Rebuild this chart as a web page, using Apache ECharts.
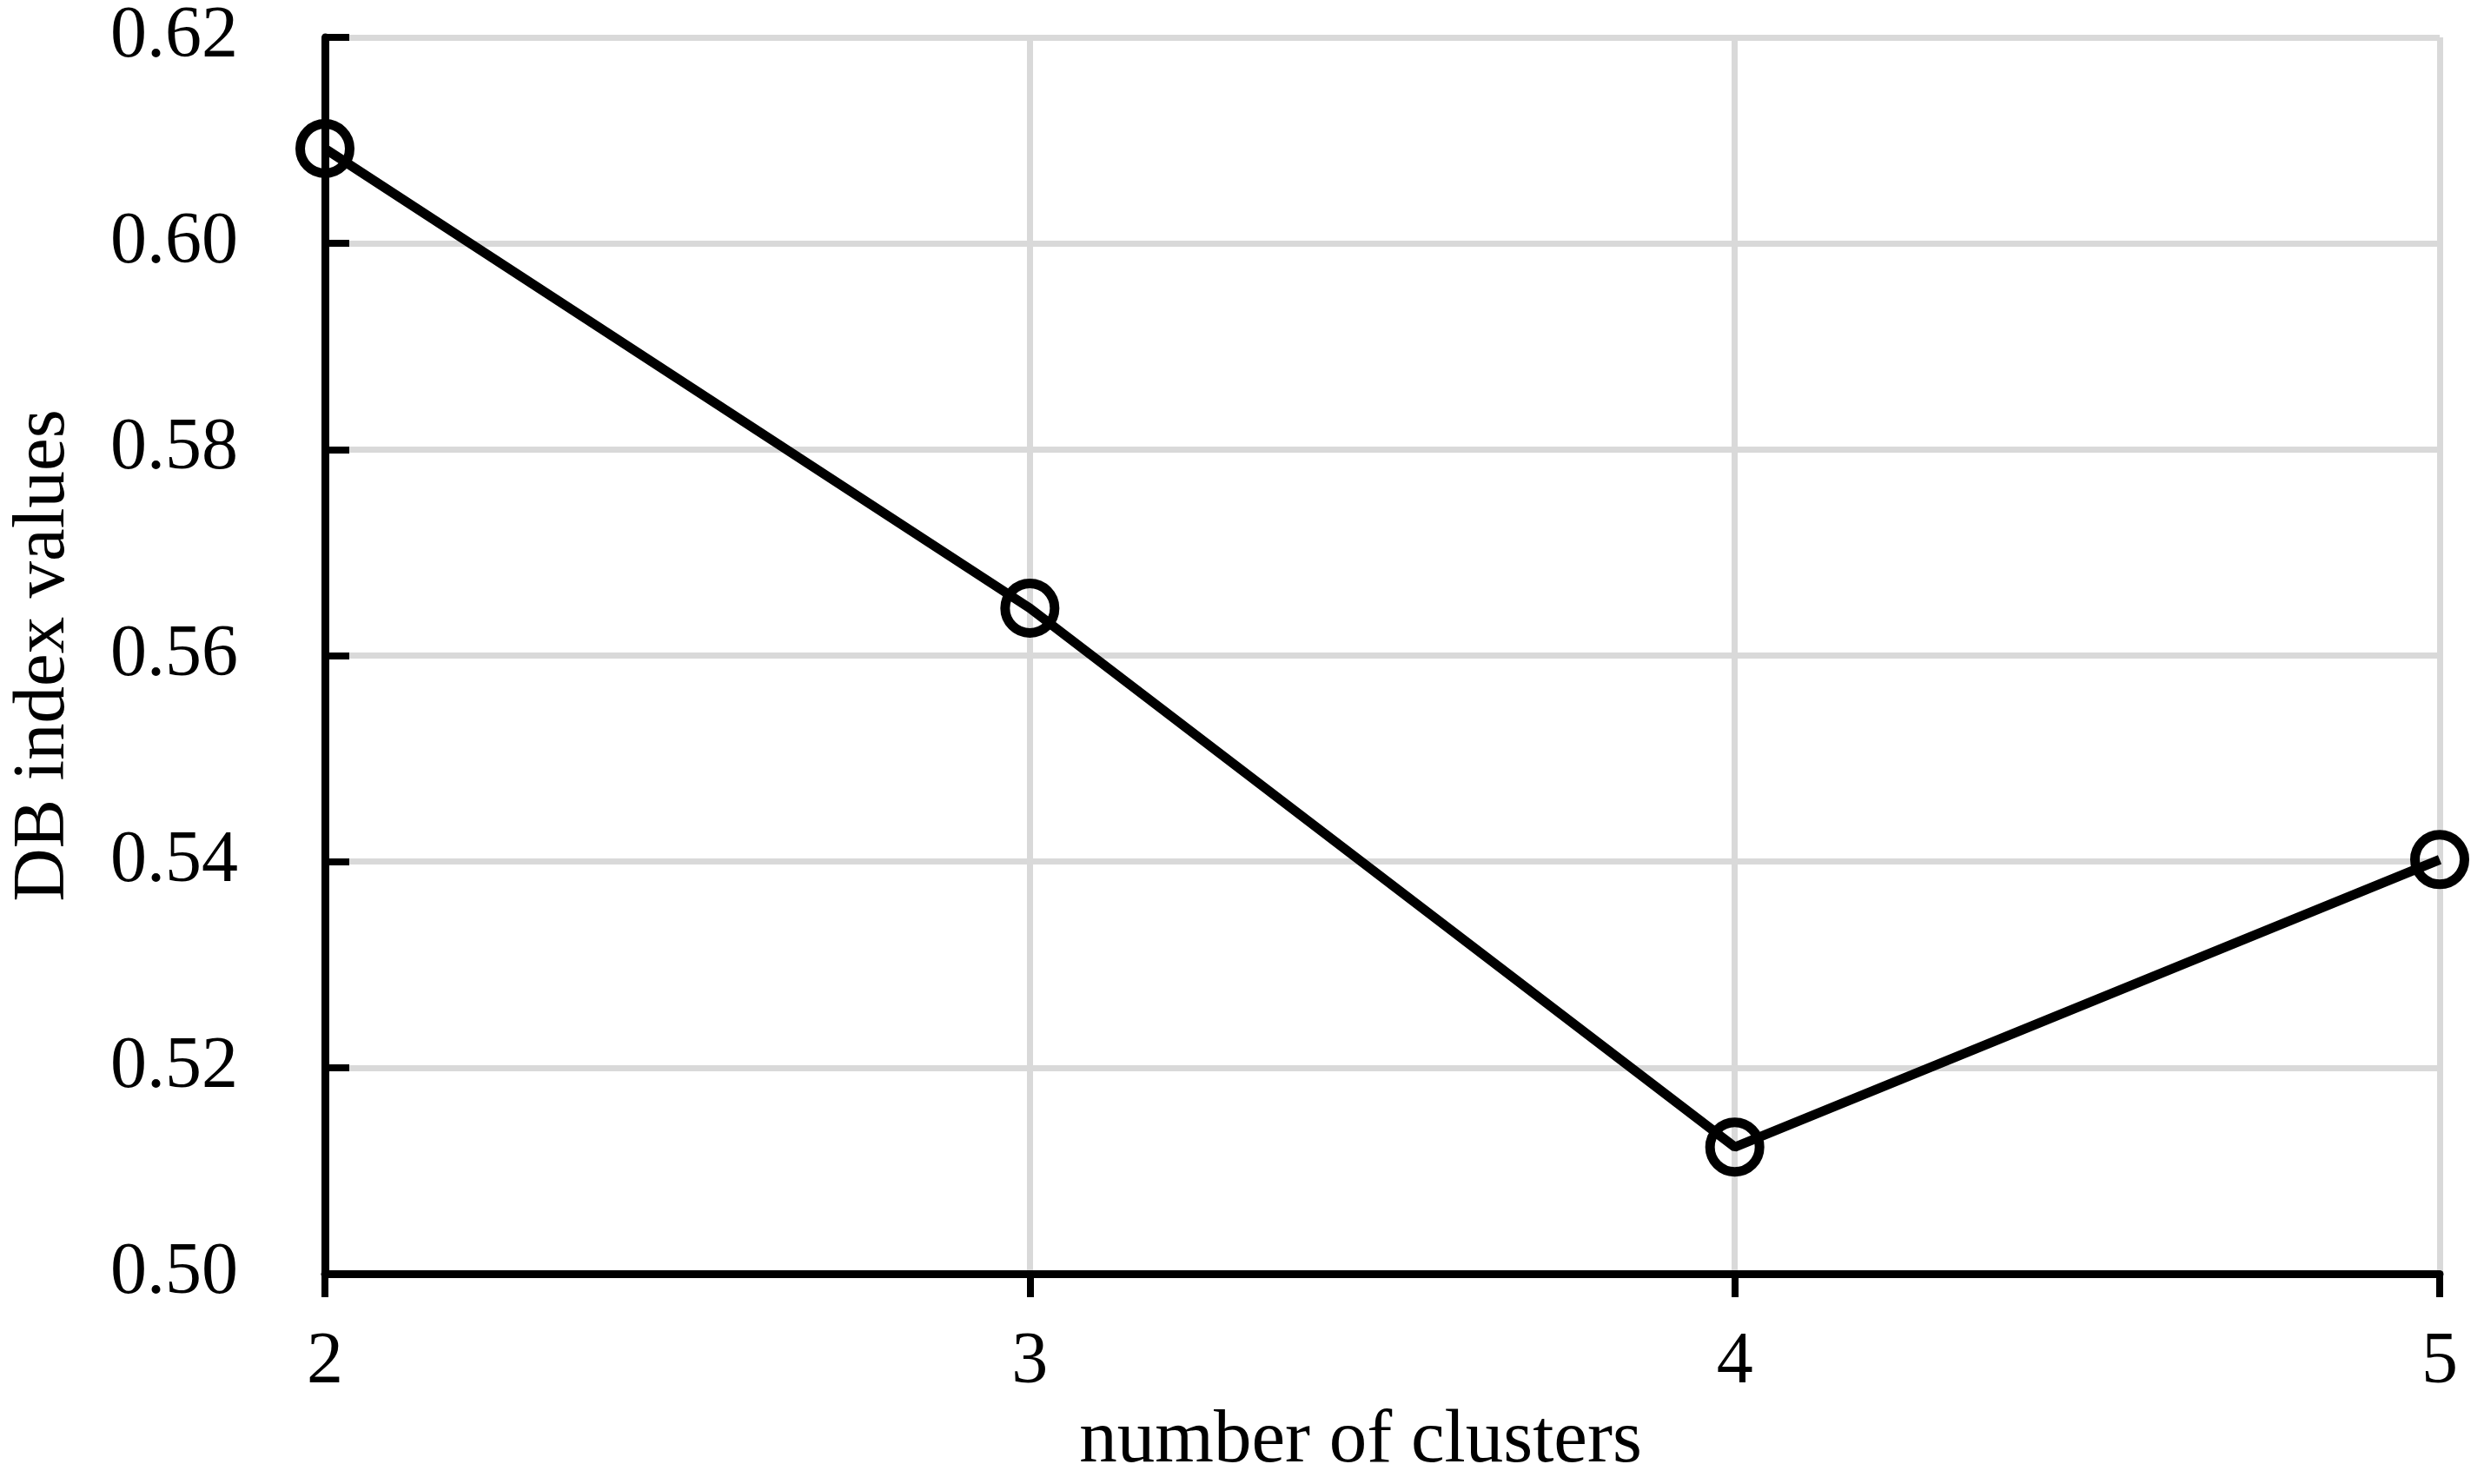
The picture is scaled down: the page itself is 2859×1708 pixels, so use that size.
<!DOCTYPE html>
<html>
<head>
<meta charset="utf-8">
<script src="https://cdn.jsdelivr.net/npm/echarts@6/dist/echarts.min.js"></script>
<style>
html,body{margin:0;padding:0;background:#fff;}
#chart{width:2859px;height:1708px;}
</style>
</head>
<body>
<div id="chart"></div>
<script>
const categories = ['2', '3', '4', '5'];
const dbIndexValues = [0.6092, 0.5646, 0.5123, 0.5402];
const xAxisTitle = 'number of clusters';
const yAxisTitle = 'DB index values';

const FONT = '"Liberation Serif", "Times New Roman", serif';
const chart = echarts.init(document.getElementById('chart'), null, {renderer: 'canvas'});
chart.setOption({
  animation: false,
  backgroundColor: '#ffffff',
  grid: {left: 366, right: 51, top: 43, bottom: 231, containLabel: false},
  xAxis: {
    type: 'category',
    data: categories,
    boundaryGap: false,
    name: xAxisTitle,
    nameLocation: 'middle',
    nameGap: 130,
    nameTextStyle: {fontFamily: FONT, fontSize: 87, color: '#000', padding: [0, 50, 0, 0]},
    axisLine: {show: true, onZero: false, lineStyle: {color: '#000', width: 9}},
    axisTick: {show: true, inside: false, length: 27, alignWithLabel: true, lineStyle: {color: '#000', width: 8}},
    axisLabel: {show: true, margin: 61, fontFamily: FONT, fontSize: 84, color: '#000'},
    splitLine: {show: true, lineStyle: {color: '#d9d9d9', width: 7}}
  },
  yAxis: {
    type: 'value',
    min: 0.50,
    max: 0.62,
    interval: 0.02,
    name: yAxisTitle,
    nameLocation: 'middle',
    nameGap: 281,
    nameRotate: 90,
    nameTextStyle: {fontFamily: FONT, fontSize: 85, color: '#000'},
    axisLine: {show: true, lineStyle: {color: '#000', width: 9}},
    axisTick: {show: true, inside: true, length: 28, lineStyle: {color: '#000', width: 8}},
    axisLabel: {show: true, margin: 100, fontFamily: FONT, fontSize: 84, color: '#000',
      formatter: v => v.toFixed(2)},
    splitLine: {show: true, lineStyle: {color: '#d9d9d9', width: 7}}
  },
  series: [{
    type: 'line',
    data: dbIndexValues,
    symbol: 'circle',
    symbolSize: 57,
    showAllSymbol: true,
    lineStyle: {color: '#000', width: 11},
    itemStyle: {color: 'rgba(0,0,0,0)', borderColor: '#000', borderWidth: 11},
    emphasis: {disabled: true},
    z: 5
  }]
});
</script>
</body>
</html>
